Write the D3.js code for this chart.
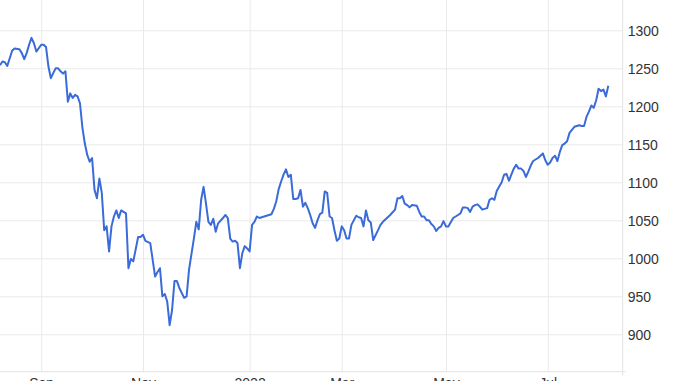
<!DOCTYPE html>
<html>
<head>
<meta charset="utf-8">
<script src="https://cdn.jsdelivr.net/npm/d3@7"></script>
<style>
  html, body { margin: 0; padding: 0; background: #fff; overflow: hidden; }
  svg { display: block; font-family: Arial, "Liberation Sans", sans-serif; }
  .grid line { stroke: #e9e9e9; }
  .grid path { display: none; }
  .grid text { fill: #333; font-size: 14px; }
</style>
</head>
<body>
<svg width="678" height="381"></svg>
<script>
// trading session number (0 = first session shown) and closing value
const sessions = [
  0, 1, 2, 3, 5, 6, 8, 9, 10, 11, 12, 13, 14, 15, 17, 18, 19, 20, 21, 22,
  23, 24, 25, 26, 27, 28, 29, 30, 31, 32, 33, 34, 35, 36, 37, 38, 39, 40, 41, 42,
  43, 44, 45, 46, 47, 48, 49, 50, 51, 52, 53, 54, 55, 57, 58, 59, 60, 62, 63, 64,
  65, 66, 67, 68, 69, 70, 71, 72, 73, 74, 76, 77, 78, 80, 81, 82, 83, 84, 85, 86,
  87, 88, 89, 90, 92, 93, 94, 95, 96, 97, 98, 99, 100, 101, 102, 103, 104, 105, 106, 107,
  109, 110, 112, 113, 114, 115, 116, 117, 118, 119, 120, 121, 122, 123, 124, 125, 126, 127, 128, 129,
  130, 131, 132, 133, 134, 135, 136, 137, 138, 139, 140, 141, 142, 143, 144, 145, 147, 148, 149, 150,
  151, 152, 153, 154, 156, 157, 158, 160, 161, 163, 164, 165, 166, 167, 168, 169, 170, 172, 173, 174,
  175, 176, 177, 178, 179, 180, 181, 182, 183, 184, 185, 187, 188, 189, 190, 191, 192, 193, 194, 195,
  196, 197, 198, 199, 200, 201, 202, 203, 204, 205, 207, 208, 209, 210, 211, 212, 213, 214, 215, 216,
  217, 218, 219, 220, 222, 223, 224, 225, 226, 227, 228, 229, 230, 231, 232, 233, 234, 235, 236, 237,
  239, 240, 241, 242, 243, 244, 245, 246, 247, 248, 249, 250, 251
];
const closes = [
  1254, 1259, 1258, 1253, 1273, 1276, 1275, 1270, 1262, 1270, 1281, 1290, 1283, 1272, 1281, 1281, 1278, 1252, 1237, 1244,
  1250, 1250, 1246, 1243, 1246, 1206, 1217, 1211, 1215, 1213, 1204, 1172, 1151, 1136, 1127, 1132, 1090, 1079, 1105, 1086,
  1037, 1042, 1009, 1042, 1055, 1063, 1053, 1063, 1061, 1059, 987, 999, 996, 1028, 1028, 1031, 1023, 1020, 998, 976,
  982, 987, 950, 953, 943, 912, 932, 970, 970, 961, 948, 950, 985, 1026, 1048, 1038, 1077, 1094, 1072, 1048,
  1044, 1052, 1035, 1046, 1053, 1057, 1053, 1026, 1022, 1023, 1020, 987, 1007, 1016, 1013, 1009, 1044, 1048, 1055, 1053,
  1055, 1056, 1058, 1065, 1075, 1091, 1101, 1110, 1117, 1107, 1110, 1078, 1078, 1079, 1090, 1068, 1073, 1066, 1057, 1046,
  1040, 1050, 1058, 1060, 1088, 1086, 1055, 1053, 1037, 1023, 1026, 1042, 1037, 1026, 1026, 1044, 1056, 1054, 1053, 1042,
  1063, 1050, 1047, 1024, 1037, 1044, 1048, 1054, 1057, 1064, 1079, 1079, 1082, 1072, 1070, 1067, 1070, 1069, 1061, 1055,
  1055, 1050, 1050, 1045, 1042, 1036, 1040, 1042, 1049, 1042, 1042, 1053, 1055, 1057, 1059, 1067, 1067, 1066, 1061, 1068,
  1070, 1071, 1068, 1064, 1065, 1066, 1077, 1079, 1077, 1089, 1100, 1110, 1111, 1102, 1110, 1118, 1123, 1118, 1118, 1115,
  1107, 1114, 1122, 1128, 1132, 1135, 1138, 1129, 1123, 1126, 1132, 1135, 1128, 1140, 1149, 1151, 1154, 1165, 1169, 1173,
  1175, 1174, 1174, 1186, 1193, 1201, 1198, 1208, 1223, 1220, 1222, 1213, 1227
];
const tickSessions = [17, 59, 103, 141, 184, 226];
const tickLabels = ["Sep", "Nov", "2022", "Mar", "May", "Jul"];
const yTicks = [900, 950, 1000, 1050, 1100, 1150, 1200, 1250, 1300];

const svg = d3.select("svg");
const plotRight = 622.7, plotBottom = 371.7;

const x = d3.scaleLinear().domain([0, 251]).range([0, 608.3]);
const y = d3.scaleLinear().domain([900, 1300]).range([334.3, 30.3]);

// horizontal grid + value labels on the right
svg.append("g")
  .attr("class", "grid")
  .attr("transform", `translate(${plotRight},0)`)
  .call(d3.axisRight(y).tickValues(yTicks).tickSize(-plotRight).tickPadding(5).tickFormat(d3.format("d")))
  .call(g => g.selectAll("text").attr("dy", "0.34em"));

// vertical grid + month labels (cut off by the bottom edge, as in the source)
svg.append("g")
  .attr("class", "grid")
  .attr("transform", `translate(0,${plotBottom})`)
  .call(d3.axisBottom(x).tickValues(tickSessions).tickSize(-plotBottom).tickPadding(6)
    .tickFormat((d, i) => tickLabels[i]));

// plot frame: bottom and right edges
svg.append("line")
  .attr("x1", 0).attr("x2", plotRight + 3)
  .attr("y1", plotBottom).attr("y2", plotBottom)
  .attr("stroke", "#e3e3e3");
svg.append("line")
  .attr("x1", plotRight).attr("x2", plotRight)
  .attr("y1", 0).attr("y2", plotBottom + 4)
  .attr("stroke", "#e3e3e3");

const line = d3.line()
  .x((d, i) => x(sessions[i]))
  .y(d => y(d));

svg.append("path")
  .datum(closes)
  .attr("fill", "none")
  .attr("stroke", "#3a6bd8")
  .attr("stroke-width", 2)
  .attr("stroke-linejoin", "round")
  .attr("d", line);
</script>
</body>
</html>
